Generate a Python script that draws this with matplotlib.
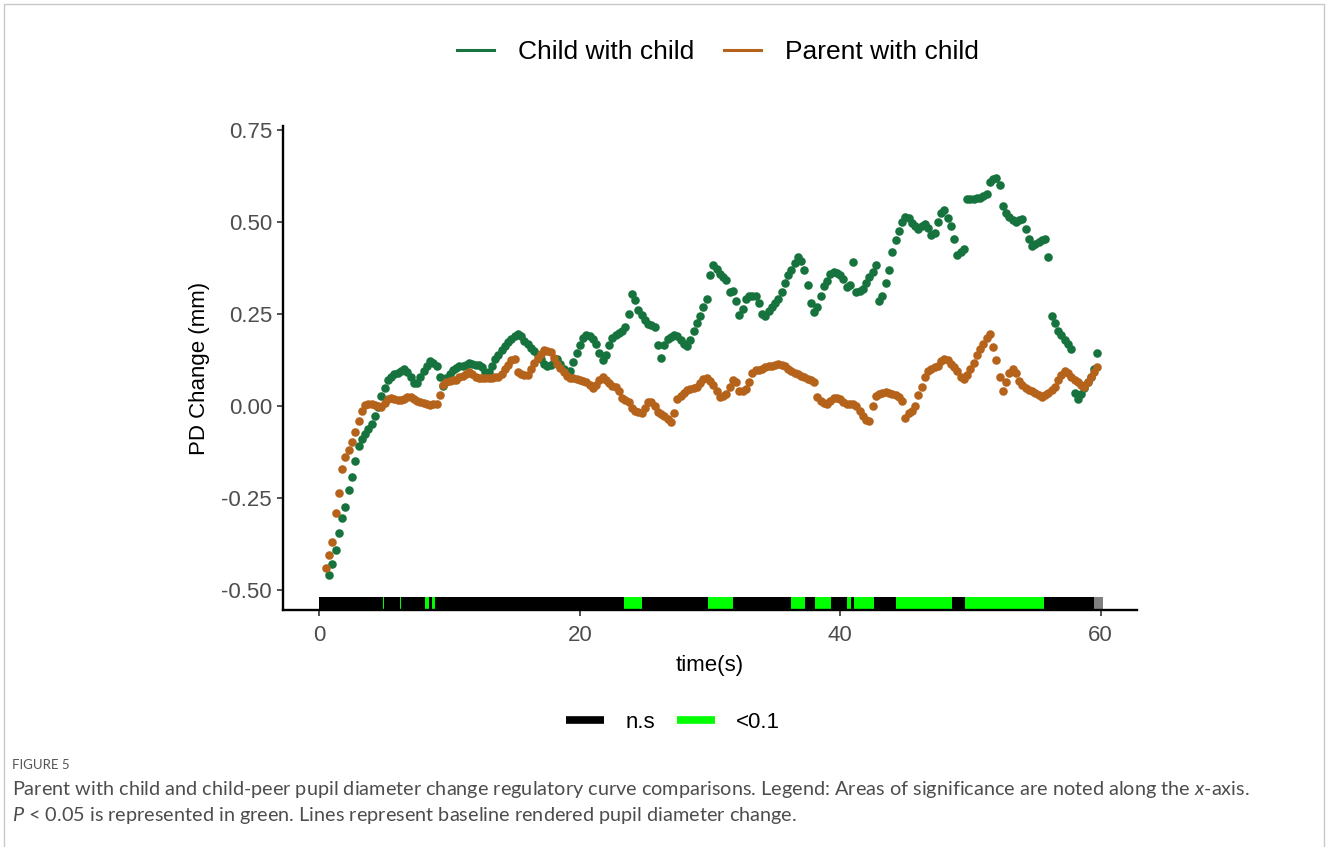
import numpy as np
import matplotlib
matplotlib.use("Agg")
from matplotlib import pyplot as plt
from matplotlib.lines import Line2D
import matplotlib.patches as mpatches

plt.rcParams['font.family'] = ['Liberation Sans', 'DejaVu Sans']
plt.rcParams['mathtext.fontset'] = 'custom'
plt.rcParams['mathtext.rm'] = 'Lato'
plt.rcParams['mathtext.it'] = 'Lato:italic'

# sampling grid (s)
time = np.arange(0.5, 60.0, 0.25)

# pupil diameter change (mm), child with child
child = [
    np.nan, -0.46,
    -0.43, -0.39, -0.345, -0.305,
    -0.274, -0.228, -0.192, -0.148,
    -0.108, -0.09, -0.075, -0.062,
    -0.049, -0.028, -0.003, 0.027,
    0.05, 0.07, 0.08, 0.086,
    0.09, 0.094, 0.101, 0.093,
    0.078, 0.062, 0.062, 0.08,
    0.095, 0.108, 0.122, 0.118,
    0.108, 0.08, 0.055, 0.075,
    0.088, 0.098, 0.104, 0.108,
    0.11, 0.113, 0.116, 0.115,
    0.112, 0.111, 0.105, 0.093,
    0.092, 0.108, 0.128, 0.14,
    0.152, 0.163, 0.173, 0.182,
    0.19, 0.197, 0.19, 0.178,
    0.168, 0.158, 0.15, 0.14,
    0.128, 0.115, 0.108, 0.112,
    0.12, 0.127, 0.115, 0.102,
    0.093, 0.095, 0.12, 0.143,
    0.165, 0.186, 0.192, 0.19,
    0.182, 0.17, 0.145, 0.124,
    0.14, 0.165, 0.185, 0.192,
    0.198, 0.205, 0.215, 0.25,
    0.305, 0.288, 0.262, 0.248,
    0.233, 0.224, 0.22, 0.214,
    0.165, 0.132, 0.165, 0.182,
    0.188, 0.192, 0.19, 0.18,
    0.17, 0.163, 0.18, 0.205,
    0.225, 0.245, 0.268, 0.29,
    0.356, 0.382, 0.372, 0.36,
    0.352, 0.342, 0.31, 0.312,
    0.285, 0.248, 0.265, 0.29,
    0.298, 0.3, 0.298, 0.28,
    0.25, 0.245, 0.258, 0.268,
    0.28, 0.29, 0.31, 0.335,
    0.355, 0.37, 0.39, 0.405,
    0.395, 0.37, 0.33, 0.28,
    0.255, 0.27, 0.3, 0.325,
    0.34, 0.36, 0.365, 0.362,
    0.356, 0.345, 0.324, 0.33,
    0.392, 0.31, 0.312, 0.318,
    0.335, 0.35, 0.365, 0.382,
    0.285, 0.3, 0.335, 0.37,
    0.42, 0.45, 0.475, 0.5,
    0.514, 0.51, 0.497, 0.49,
    0.48, 0.49, 0.495, 0.485,
    0.465, 0.47, 0.5, 0.525,
    0.532, 0.51, 0.49, 0.455,
    0.41, 0.418, 0.426, 0.562,
    0.563, 0.564, 0.565, 0.566,
    0.57, 0.575, 0.61, 0.618,
    0.62, 0.6, 0.545, 0.525,
    0.515, 0.505, 0.5, 0.505,
    0.508, 0.48, 0.455, 0.435,
    0.44, 0.445, 0.45, 0.455,
    0.405, 0.245, 0.225, 0.205,
    0.193, 0.18, 0.17, 0.155,
    0.035, 0.02, 0.032, 0.048,
    0.065, 0.08, 0.1, 0.145,
]

# pupil diameter change (mm), parent with child
parent = [
    -0.44, -0.405,
    -0.37, -0.29, -0.235, -0.172,
    -0.138, -0.12, -0.097, -0.07,
    -0.04, -0.012, 0.002, 0.006,
    0.007, 0.004, 0.0, -0.002,
    0.008, 0.018, 0.022, 0.02,
    0.017, 0.016, 0.02, 0.024,
    0.025, 0.02, 0.015, 0.012,
    0.008, 0.005, 0.003, 0.005,
    0.007, 0.03, 0.058, 0.066,
    0.068, 0.07, 0.072, 0.078,
    0.083, 0.088, 0.092, 0.088,
    0.08, 0.076, 0.075, 0.075,
    0.075, 0.076, 0.078, 0.08,
    0.088, 0.1, 0.112, 0.125,
    0.128, 0.092, 0.086, 0.084,
    0.084, 0.1, 0.118, 0.13,
    0.142, 0.152, 0.15, 0.148,
    0.13, 0.115, 0.103, 0.092,
    0.082, 0.077, 0.075, 0.073,
    0.071, 0.069, 0.066, 0.058,
    0.05, 0.058, 0.07, 0.08,
    0.072, 0.062, 0.054, 0.052,
    0.04, 0.022, 0.016, 0.01,
    -0.005, -0.012, -0.015, -0.018,
    -0.005, 0.01, 0.012, 0.0,
    -0.015, -0.022, -0.028, -0.035,
    -0.042, -0.02, 0.018, 0.027,
    0.035, 0.043, 0.046, 0.05,
    0.052, 0.062, 0.074, 0.075,
    0.068, 0.057, 0.04, 0.026,
    0.028, 0.033, 0.052, 0.07,
    0.065, 0.04, 0.04, 0.047,
    0.065, 0.09, 0.098, 0.098,
    0.1, 0.105, 0.108, 0.11,
    0.112, 0.115, 0.113, 0.108,
    0.1, 0.094, 0.09, 0.086,
    0.082, 0.078, 0.074, 0.07,
    0.065, 0.025, 0.015, 0.009,
    0.007, 0.015, 0.021, 0.021,
    0.02, 0.012, 0.007, 0.007,
    0.006, 0.0, -0.012, -0.028,
    -0.038, -0.04, 0.0, 0.028,
    0.033, 0.036, 0.037, 0.035,
    0.033, 0.03, 0.025, 0.014,
    -0.032, -0.02, -0.012, 0.0,
    0.03, 0.052, 0.08, 0.095,
    0.1, 0.105, 0.11, 0.122,
    0.127, 0.125, 0.115, 0.105,
    0.095, 0.08, 0.074, 0.085,
    0.1, 0.118, 0.14, 0.155,
    0.17, 0.185, 0.195, 0.16,
    0.125, 0.08, 0.04, 0.065,
    0.09, 0.102, 0.09, 0.068,
    0.058, 0.05, 0.044, 0.04,
    0.036, 0.03, 0.026, 0.03,
    0.036, 0.044, 0.052, 0.07,
    0.085, 0.095, 0.09, 0.08,
    0.072, 0.065, 0.058, 0.052,
    0.065, 0.08, 0.092, 0.105,
]

# significance strip along the x-axis (s)
ns_span = (0.0, 59.5)
na_span = (59.5, 60.2)
sig_start = [4.90, 6.16, 8.08, 8.67, 23.36, 29.83, 36.2, 38.1, 40.55, 41.06, 44.26, 49.58]
sig_end = [4.98, 6.24, 8.39, 8.88, 24.75, 31.8, 37.33, 39.27, 40.83, 42.6, 48.58, 55.64]

green = '#17733D'
orange = '#B5621B'
lime = '#00FF00'

fig = plt.figure(figsize=(13.28, 8.47), dpi=100)
ax = fig.add_axes([283/1328, 1-610/847, (1137-283)/1328, (610-126)/847])

ylo = -0.554
bar_top = -0.518
ax.broken_barh([(ns_span[0], ns_span[1]-ns_span[0])], (ylo, bar_top-ylo), facecolors='black', zorder=1)
ax.broken_barh([(na_span[0], na_span[1]-na_span[0])], (ylo, bar_top-ylo), facecolors='#808080', zorder=1)
ax.broken_barh([(s, e-s) for s, e in zip(sig_start, sig_end)], (ylo, bar_top-ylo), facecolors=lime, zorder=2)

ax.scatter(time, child, s=38, color=green, linewidths=0, zorder=3)
ax.scatter(time, parent, s=38, color=orange, linewidths=0, zorder=3)

ax.set_xlim(-2.8, 62.8)
ax.set_ylim(ylo, 0.761)
ax.set_xticks([0, 20, 40, 60])
ax.set_yticks([-0.5, -0.25, 0, 0.25, 0.5, 0.75])
ax.set_yticklabels(['-0.50', '-0.25', '0.00', '0.25', '0.50', '0.75'])
for s in ['top', 'right']:
    ax.spines[s].set_visible(False)
for s in ['left', 'bottom']:
    ax.spines[s].set_linewidth(1.7)
ax.tick_params(direction='out', length=4, width=1.2, colors='#333333', labelcolor='#4d4d4d', labelsize=16, pad=4)
ax.tick_params(axis='x', pad=7)
ax.set_xlabel('time(s)', fontsize=16, labelpad=6)
ax.set_ylabel('PD Change (mm)', fontsize=16, labelpad=8)

# top legend
h1 = [Line2D([], [], color=green, lw=2.2), Line2D([], [], color=orange, lw=2.2)]
fig.legend(h1, ['Child with child', 'Parent with child'], loc='center', bbox_to_anchor=(718/1328, 1-52/847),
           ncol=2, frameon=False, fontsize=19, handlelength=1.4, handletextpad=0.9, columnspacing=1.15)

# bottom legend
h2 = [Line2D([], [], color='black', lw=5.5, solid_capstyle='butt'), Line2D([], [], color=lime, lw=5.5, solid_capstyle='butt')]
fig.legend(h2, ['n.s', '<0.1'], loc='center', bbox_to_anchor=(673/1328, 1-722/847),
           ncol=2, frameon=False, fontsize=16, handlelength=1.7, handletextpad=0.95, columnspacing=1.0)

# page frame
fig.patches.append(mpatches.Rectangle((4/1328, -0.1), 1320/1328, 1.1-4/847, transform=fig.transFigure,
                                      fill=False, edgecolor='#c8c8c8', lw=1))

cap = ['Lato', 'DejaVu Sans']
fig.text(12/1328, 1-765/847, 'FIGURE 5', fontsize=9.5, color='#555555', family=cap, va='center')
fig.text(12/1328, 1-789/847, 'Parent with child and child-peer pupil diameter change regulatory curve comparisons. '
         'Legend: Areas of significance are noted along the $x$-axis.', fontsize=14.3, color='#4d4d4d', family=cap, va='center')
fig.text(12/1328, 1-815/847, '$P$ < 0.05 is represented in green. Lines represent baseline rendered pupil diameter change.',
         fontsize=14.3, color='#4d4d4d', family=cap, va='center')

fig.savefig('out.png', dpi=100)
